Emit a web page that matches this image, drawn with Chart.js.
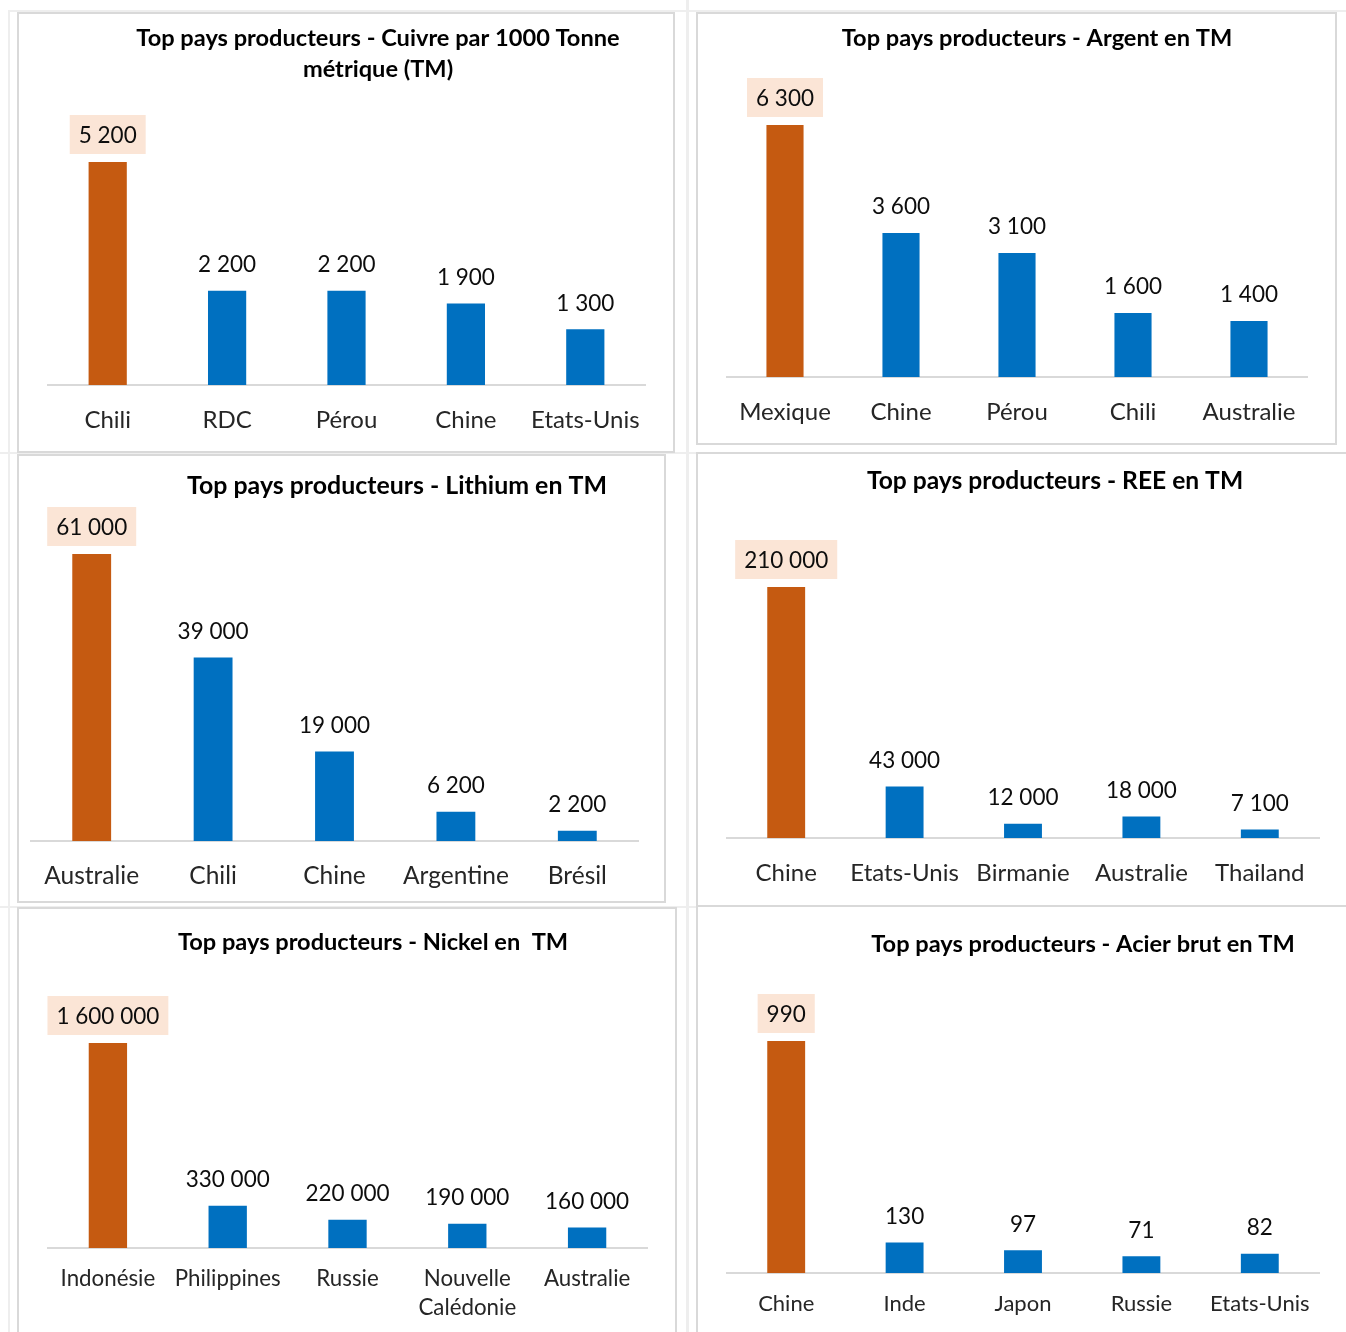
<!DOCTYPE html>
<html>
<head>
<meta charset="utf-8">
<script src="https://cdn.jsdelivr.net/npm/chart.js@4.4.1/dist/chart.umd.min.js"></script>
<style>
html,body{margin:0;padding:0;background:#fff;}
body{width:1346px;height:1332px;overflow:hidden;position:relative;}
.panel{position:absolute;border:2px solid #d9d9d9;box-sizing:border-box;background:#fff;}
.gl{position:absolute;background:#eeeeee;}
canvas{position:absolute;}
</style>
</head>
<body>
<script>
// ---------- DATA ----------
const cuivreTitle = ['Top pays producteurs - Cuivre par 1000 Tonne', 'métrique (TM)'];
const cuivreLabels = ['Chili', 'RDC', 'Pérou', 'Chine', 'Etats-Unis'];
const cuivreValues = [5200, 2200, 2200, 1900, 1300];

const argentTitle = ['Top pays producteurs - Argent en TM'];
const argentLabels = ['Mexique', 'Chine', 'Pérou', 'Chili', 'Australie'];
const argentValues = [6300, 3600, 3100, 1600, 1400];

const lithiumTitle = ['Top pays producteurs - Lithium en TM'];
const lithiumLabels = ['Australie', 'Chili', 'Chine', 'Argentine', 'Brésil'];
const lithiumValues = [61000, 39000, 19000, 6200, 2200];

const reeTitle = ['Top pays producteurs - REE en TM'];
const reeLabels = ['Chine', 'Etats-Unis', 'Birmanie', 'Australie', 'Thailand'];
const reeValues = [210000, 43000, 12000, 18000, 7100];

const nickelTitle = ['Top pays producteurs - Nickel en  TM'];
const nickelLabels = ['Indonésie', 'Philippines', 'Russie', ['Nouvelle', 'Calédonie'], 'Australie'];
const nickelValues = [1600000, 330000, 220000, 190000, 160000];

const acierTitle = ['Top pays producteurs - Acier brut en TM'];
const acierLabels = ['Chine', 'Inde', 'Japon', 'Russie', 'Etats-Unis'];
const acierValues = [990, 130, 97, 71, 82];

// ---------- STYLE ----------
const ORANGE = '#C55A11';
const BLUE = '#0070C0';
const BOX = '#FBE5D6';
const FONT = 'Lato';
const VALUE_SIZE = 22.5;

// ---------- LAYOUT (page coordinates) ----------
const layouts = [
  {panel:[17,12,675,453],  plotL:48,  plotR:645,  base:385,  top:162,  tx:378,  ty:38,  ts:23.6, cs:24,   lab:35, lhPx:28.8},
  {panel:[696,12,1337,445],plotL:727, plotR:1307, base:377,  top:125,  tx:1037, ty:38,  ts:23.6, cs:24,   lab:35, lhPx:28.8},
  {panel:[17,454,666,903], plotL:31,  plotR:638,  base:841,  top:554,  tx:397,  ty:486, ts:24.9, cs:24.5, lab:35, lhPx:28.8},
  {panel:[696,452,1360,907],plotL:727,plotR:1319, base:838,  top:587,  tx:1055, ty:481, ts:24.6, cs:24,   lab:35, lhPx:28.8},
  {panel:[17,907,677,1360],plotL:48,  plotR:647,  base:1248, top:1043, tx:373,  ty:942, ts:23.6, cs:22.3, lab:31, lhPx:29},
  {panel:[696,905,1360,1360],plotL:727,plotR:1319,base:1273, top:1041, tx:1083, ty:944, ts:23.6, cs:22,   lab:31, lhPx:26.4}
];

// faint sheet gridlines
[[8,11,2,1321],[686,0,3,1332],[8,10,1338,2],[0,452,1346,2],[0,906,1346,2]].forEach(g=>{
  const d=document.createElement('div');d.className='gl';
  d.style.left=g[0]+'px';d.style.top=g[1]+'px';d.style.width=g[2]+'px';d.style.height=g[3]+'px';
  document.body.appendChild(d);
});

function fmt(v){ return String(v).replace(/\B(?=(\d{3})+(?!\d))/g, ' '); }

const titlePlugin = {
  id: 'panelTitle',
  afterDraw(chart, args, o){
    const ctx = chart.ctx; ctx.save();
    ctx.font = 'bold ' + o.size + 'px ' + FONT;
    ctx.fillStyle = '#000'; ctx.textAlign = 'center'; ctx.textBaseline = 'middle';
    o.lines.forEach((t,i)=>ctx.fillText(t, o.x, o.y + i*o.gap));
    ctx.restore();
  }
};

const barLabelPlugin = {
  id: 'barLabels',
  afterDatasetsDraw(chart, args, o){
    const ctx = chart.ctx; const ds = chart.data.datasets[0]; const meta = chart.getDatasetMeta(0);
    ctx.save();
    ctx.font = o.size + 'px ' + FONT; ctx.textAlign = 'center'; ctx.textBaseline = 'middle';
    meta.data.forEach((bar,i)=>{
      const txt = fmt(ds.data[i]);
      const cy = bar.y - o.offset;
      if (i === o.highlight){
        const w = ctx.measureText(txt).width + 2*o.padX;
        ctx.fillStyle = BOX;
        ctx.fillRect(bar.x - w/2, cy - 20, w, 39);
      }
      ctx.fillStyle = '#0d0d0d';
      ctx.fillText(txt, bar.x, cy + 1);
    });
    ctx.restore();
  }
};

function makePanel(L, title, labels, values){
  const p = L.panel;
  const div = document.createElement('div'); div.className='panel';
  div.style.left=p[0]+'px'; div.style.top=p[1]+'px';
  div.style.width=(p[2]-p[0])+'px'; div.style.height=(p[3]-p[1])+'px';
  document.body.appendChild(div);

  const x0 = p[0]+2, y0 = p[1]+2;
  const x1 = Math.min(p[2]-2, 1346), y1 = Math.min(p[3]-2, 1332);
  const w = x1-x0, h = y1-y0;
  const cv = document.createElement('canvas');
  cv.width = w; cv.height = h;
  cv.style.left = x0+'px'; cv.style.top = y0+'px';
  cv.style.width = w+'px'; cv.style.height = h+'px';
  document.body.appendChild(cv);

  const maxV = Math.max(...values);
  const hi = values.indexOf(maxV);
  const colors = values.map((v,i)=> i===hi ? ORANGE : BLUE);

  new Chart(cv, {
    type: 'bar',
    data: { labels: labels, datasets: [{ data: values, backgroundColor: colors, borderWidth: 0,
            barPercentage: 0.32, categoryPercentage: 1 }] },
    options: {
      responsive: false, animation: false, devicePixelRatio: 1,
      layout: { padding: { left: L.plotL - x0, right: x1 - L.plotR, top: L.top - y0, bottom: 0 } },
      plugins: {
        legend: { display: false }, tooltip: { enabled: false }, title: { display: false },
        panelTitle: { lines: title, x: L.tx - x0, y: L.ty - y0, gap: 31, size: L.ts },
        barLabels: { offset: 27, highlight: hi, padX: 9, size: VALUE_SIZE }
      },
      scales: {
        x: {
          grid: { display: false, drawTicks: false },
          border: { display: true, color: '#d9d9d9', width: 2 },
          ticks: { color: '#262626', font: { family: FONT, size: L.cs, lineHeight: L.lhPx / L.cs },
                   padding: L.lab - L.lhPx/2, maxRotation: 0, minRotation: 0, autoSkip: false },
          afterFit(axis){ axis.height = y1 - L.base; }
        },
        y: { display: false, min: 0, max: maxV }
      }
    },
    plugins: [titlePlugin, barLabelPlugin]
  });
}

makePanel(layouts[0], cuivreTitle, cuivreLabels, cuivreValues);
makePanel(layouts[1], argentTitle, argentLabels, argentValues);
makePanel(layouts[2], lithiumTitle, lithiumLabels, lithiumValues);
makePanel(layouts[3], reeTitle, reeLabels, reeValues);
makePanel(layouts[4], nickelTitle, nickelLabels, nickelValues);
makePanel(layouts[5], acierTitle, acierLabels, acierValues);
</script>
</body>
</html>
